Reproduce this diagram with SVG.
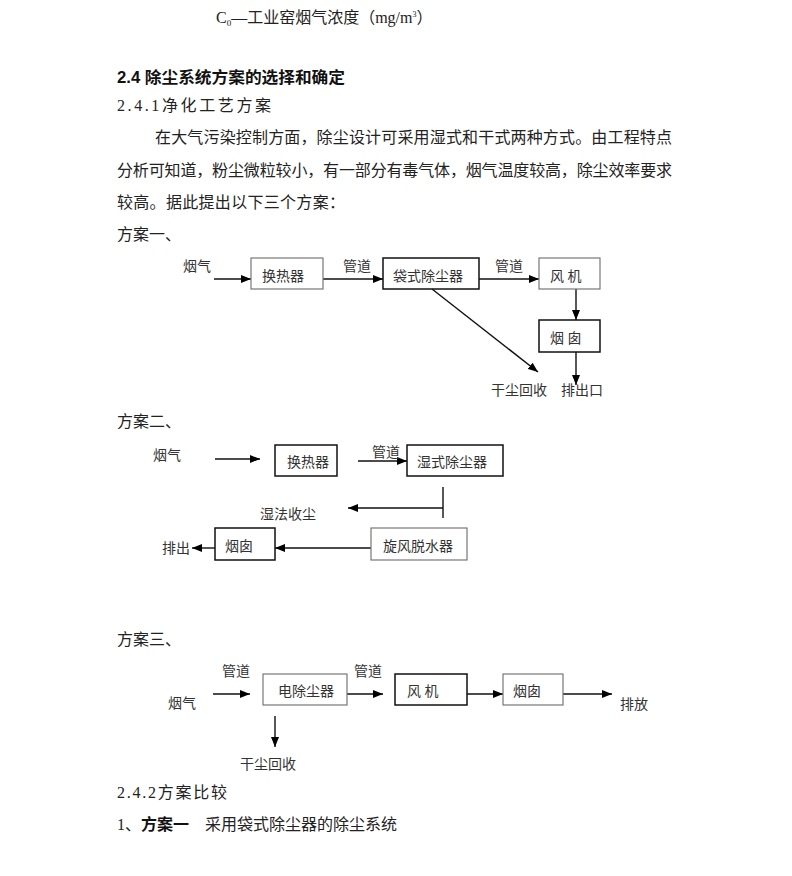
<svg xmlns="http://www.w3.org/2000/svg" width="792" height="876" viewBox="0 0 792 876">
<defs>
<marker id="ah" markerWidth="10" markerHeight="8" refX="10" refY="4" orient="auto" markerUnits="userSpaceOnUse"><path d="M0,0 L10,4 L0,8 z" fill="#000"/></marker>
<style>
.body{font-family:"Liberation Serif","Noto Sans CJK SC",serif;font-size:16px;fill:#222}
.head{font-family:"Liberation Sans","Noto Sans CJK SC",sans-serif;font-size:16px;font-weight:bold;fill:#111}
.lbl{font-family:"Liberation Serif","Noto Sans CJK SC",serif;font-size:14px;fill:#333}
.bk{fill:#fff;stroke:#111;stroke-width:1.5}
.gy{fill:#fff;stroke:#777;stroke-width:1.2}
.ln{fill:none;stroke:#111;stroke-width:1.4}
.ar{fill:none;stroke:#111;stroke-width:1.4;marker-end:url(#ah)}
</style>
</defs>
<rect width="792" height="876" fill="#fff"/>
<g id="text">
<text class="body" x="216" y="23" font-size="14.5">C<tspan font-size="9" dy="3">0</tspan><tspan dy="-3">—工业窑烟气浓度（mg/m</tspan><tspan font-size="8" dy="-6">3</tspan><tspan dy="6">）</tspan></text>
<text class="head" x="117" y="83" textLength="228" lengthAdjust="spacingAndGlyphs">2.4 除尘系统方案的选择和确定</text>
<text class="body" x="117" y="111" textLength="154" lengthAdjust="spacing">2.4.1净化工艺方案</text>
<text class="body" x="155" y="143" textLength="517" lengthAdjust="spacing">在大气污染控制方面，除尘设计可采用湿式和干式两种方式。由工程特点</text>
<text class="body" x="117" y="176" textLength="555" lengthAdjust="spacing">分析可知道，粉尘微粒较小，有一部分有毒气体，烟气温度较高，除尘效率要求</text>
<text class="body" x="117" y="208" textLength="228" lengthAdjust="spacing">较高。据此提出以下三个方案：</text>
<text class="body" x="117" y="240" font-size="15">方案一、</text>
<text class="body" x="117" y="427" font-size="15">方案二、</text>
<text class="body" x="117" y="645" font-size="15">方案三、</text>
<text class="body" x="117" y="798" textLength="110" lengthAdjust="spacing">2.4.2方案比较</text>
<text class="body" x="117" y="830">1、<tspan class="head">方案一</tspan>　采用袋式除尘器的除尘系统</text>
</g>
<g id="connectors">
<line class="ar" x1="214" y1="279" x2="251" y2="279"/>
<line class="ar" x1="323" y1="279" x2="383" y2="279"/>
<line class="ar" x1="479" y1="279" x2="539" y2="279"/>
<line class="ar" x1="576" y1="289" x2="576" y2="320"/>
<line class="ar" x1="576" y1="352" x2="576" y2="385"/>
<line class="ar" x1="432" y1="289" x2="538" y2="372"/>
<line class="ar" x1="215" y1="459" x2="260" y2="459"/>
<line class="ar" x1="358" y1="461" x2="407" y2="461"/>
<line class="ln" x1="443" y1="487" x2="443" y2="518"/>
<line class="ar" x1="443" y1="508" x2="348" y2="508"/>
<line class="ar" x1="371" y1="548" x2="275" y2="548"/>
<line class="ar" x1="215" y1="548" x2="192" y2="548"/>
<line class="ar" x1="213" y1="694" x2="250" y2="694"/>
<line class="ar" x1="347" y1="694" x2="383" y2="694"/>
<line class="ar" x1="275" y1="716" x2="275" y2="747"/>
<line class="ar" x1="467" y1="694" x2="503" y2="694"/>
<line class="ar" x1="563" y1="694" x2="612" y2="694"/>
</g>
<g id="s1-labels">
<text class="lbl" x="183" y="271">烟气</text>
<text class="lbl" x="343" y="271">管道</text>
<text class="lbl" x="495" y="271">管道</text>
<text class="lbl" x="491" y="395">干尘回收</text>
<text class="lbl" x="561" y="395">排出口</text>
</g>
<g id="s1-hx"><rect class="gy" x="251" y="258" width="72" height="31"/><text class="lbl" x="262" y="281">换热器</text></g>
<g id="s1-bag"><rect class="bk" x="383" y="258" width="96" height="31"/><text class="lbl" x="393" y="281">袋式除尘器</text></g>
<g id="s1-fan"><rect class="gy" x="539" y="258" width="61" height="31"/><text class="lbl" x="550" y="281">风 机</text></g>
<g id="s1-stack"><rect class="bk" x="539" y="320" width="61" height="32"/><text class="lbl" x="550" y="343">烟 囱</text></g>
<g id="s2-labels">
<text class="lbl" x="153" y="460">烟气</text>
<text class="lbl" x="372" y="457">管道</text>
<text class="lbl" x="260" y="519">湿法收尘</text>
<text class="lbl" x="162" y="553">排出</text>
</g>
<g id="s2-hx"><rect class="bk" x="275" y="445" width="62" height="31"/><text class="lbl" x="287" y="467">换热器</text></g>
<g id="s2-wet"><rect class="bk" x="407" y="445" width="96" height="31"/><text class="lbl" x="417" y="467">湿式除尘器</text></g>
<g id="s2-cyc"><rect class="gy" x="371" y="528" width="96" height="32"/><text class="lbl" x="383" y="551">旋风脱水器</text></g>
<g id="s2-stack"><rect class="bk" x="215" y="528" width="60" height="32"/><text class="lbl" x="225" y="551">烟囱</text></g>
<g id="s3-labels">
<text class="lbl" x="222" y="676">管道</text>
<text class="lbl" x="168" y="708">烟气</text>
<text class="lbl" x="354" y="676">管道</text>
<text class="lbl" x="620" y="709">排放</text>
<text class="lbl" x="240" y="769">干尘回收</text>
</g>
<g id="s3-esp"><rect class="gy" x="263" y="674" width="84" height="31"/><text class="lbl" x="278" y="696">电除尘器</text></g>
<g id="s3-fan"><rect class="bk" x="395" y="674" width="72" height="31"/><text class="lbl" x="407" y="696">风 机</text></g>
<g id="s3-stack"><rect class="gy" x="503" y="674" width="60" height="31"/><text class="lbl" x="513" y="696">烟囱</text></g>
</svg>
